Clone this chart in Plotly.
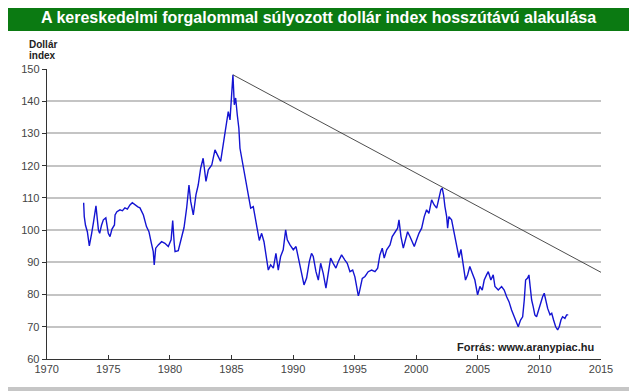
import plotly.graph_objects as go

# ---- data ----
years = [1973.0, 1973.05, 1973.15, 1973.3, 1973.46, 1973.55, 1973.65, 1973.8, 1973.92, 1974.0,
         1974.2, 1974.3, 1974.45, 1974.6, 1974.8, 1975.0, 1975.14, 1975.3, 1975.5, 1975.55,
         1975.7, 1975.95, 1976.15, 1976.35, 1976.55, 1976.76, 1976.95, 1977.17, 1977.4, 1977.57,
         1977.85, 1978.1, 1978.3, 1978.5, 1978.65, 1978.73, 1978.85, 1979.06, 1979.33, 1979.6,
         1979.87, 1980.1, 1980.23, 1980.35, 1980.42, 1980.68, 1980.96, 1981.15, 1981.36, 1981.55,
         1981.69, 1981.9, 1982.12, 1982.3, 1982.5, 1982.7, 1982.93, 1983.12, 1983.4, 1983.66,
         1983.93, 1984.12, 1984.33, 1984.55, 1984.74, 1984.88, 1985.02, 1985.12, 1985.23, 1985.34,
         1985.47, 1985.6, 1985.69, 1985.83, 1986.0, 1986.23, 1986.36, 1986.56, 1986.77, 1986.91,
         1987.08, 1987.26, 1987.45, 1987.64, 1987.86, 1987.99, 1988.18, 1988.4, 1988.61, 1988.8,
         1988.99, 1989.2, 1989.4, 1989.53, 1989.75, 1990.02, 1990.24, 1990.42, 1990.7, 1990.89,
         1991.1, 1991.32, 1991.5, 1991.64, 1991.86, 1992.05, 1992.24, 1992.45, 1992.67, 1992.86,
         1993.05, 1993.26, 1993.48, 1993.67, 1993.94, 1994.21, 1994.4, 1994.62, 1994.84, 1995.02,
         1995.21, 1995.3, 1995.37, 1995.51, 1995.62, 1995.84, 1996.1, 1996.38, 1996.65, 1996.87,
         1997.05, 1997.24, 1997.4, 1997.6, 1997.87, 1998.05, 1998.27, 1998.49, 1998.6, 1998.76,
         1998.95, 1999.14, 1999.3, 1999.49, 1999.68, 1999.84, 2000.03, 2000.22, 2000.44, 2000.65,
         2000.84, 2001.03, 2001.25, 2001.46, 2001.66, 2001.79, 2002.0, 2002.11, 2002.22, 2002.33,
         2002.47, 2002.55, 2002.65, 2002.87, 2003.0, 2003.14, 2003.28, 2003.4, 2003.47, 2003.63,
         2003.73, 2003.82, 2004.0, 2004.17, 2004.35, 2004.55, 2004.76, 2004.98, 2005.17, 2005.36,
         2005.52, 2005.71, 2005.85, 2006.06, 2006.25, 2006.39, 2006.66, 2006.93, 2007.14, 2007.34,
         2007.53, 2007.74, 2007.96, 2008.15, 2008.28, 2008.47, 2008.64, 2008.77, 2008.88, 2009.04,
         2009.15, 2009.25, 2009.37, 2009.5, 2009.63, 2009.77, 2009.96, 2010.12, 2010.26, 2010.39,
         2010.5, 2010.67, 2010.86, 2011.0, 2011.15, 2011.32, 2011.48, 2011.61, 2011.75, 2011.88,
         2012.07, 2012.21, 2012.34]
index_values = [108.5, 104.2, 101.5, 99.5, 95.1, 97.5, 99.0, 102.5, 106.3, 107.5,
                100.0, 99.0, 101.5, 103.2, 103.8, 99.0, 98.0, 100.3, 101.6, 104.7,
                105.7, 106.3, 106.0, 106.9, 106.5, 107.8, 108.5, 107.8, 107.2, 106.9,
                104.7, 101.1, 99.5, 95.9, 93.3, 89.2, 94.4, 95.4, 96.4, 95.9,
                94.9, 97.0, 103.0, 96.0, 93.3, 93.6, 97.8, 100.8, 106.8, 114.0,
                108.9, 104.7, 111.0, 114.0, 119.2, 122.3, 115.1, 118.7, 120.2, 124.9,
                122.8, 121.3, 126.5, 131.6, 136.8, 134.2, 141.0, 148.2, 138.9, 141.0,
                135.8, 131.6, 125.4, 122.3, 119.2, 114.0, 109.9, 106.8, 107.3, 103.7,
                100.6, 96.8, 99.0, 96.4, 91.3, 87.6, 89.2, 88.2, 92.8, 87.6,
                91.8, 93.9, 100.1, 97.0, 95.4, 93.9, 94.9, 91.3, 86.6, 83.0,
                85.1, 90.2, 92.8, 91.8, 87.1, 84.5, 89.7, 86.6, 82.0, 86.6,
                91.3, 89.7, 88.2, 90.2, 92.3, 90.7, 89.7, 87.1, 87.6, 85.5,
                80.9, 79.6, 80.5, 83.0, 85.0, 85.6, 87.1, 87.6, 87.1, 88.2,
                92.3, 94.4, 91.3, 93.9, 95.4, 98.0, 99.5, 100.6, 103.2, 98.0,
                94.4, 97.0, 99.5, 98.0, 96.4, 94.9, 97.0, 99.0, 100.6, 104.2,
                106.3, 105.2, 109.4, 107.8, 106.8, 108.9, 112.5, 113.0, 110.9, 107.3,
                104.2, 100.6, 104.2, 103.2, 100.6, 98.3, 95.4, 93.5, 91.5, 94.0,
                91.0, 89.7, 84.5, 86.1, 88.7, 86.6, 84.5, 79.9, 82.5, 81.4,
                84.5, 86.1, 87.1, 84.5, 86.1, 82.5, 81.4, 82.5, 81.4, 79.3,
                77.8, 75.2, 73.1, 71.6, 70.0, 72.1, 73.1, 78.3, 84.5, 85.1,
                86.1, 82.5, 78.3, 76.2, 73.7, 73.1, 75.7, 77.3, 79.3, 80.4,
                78.3, 75.7, 73.7, 74.2, 72.1, 70.0, 69.0, 70.0, 72.1, 73.1,
                72.6, 73.7, 73.7]

trend_years = [1985.12, 2015.0]
trend_values = [148.2, 86.9]

x_ticks = [1970, 1975, 1980, 1985, 1990, 1995, 2000, 2005, 2010, 2015]
y_ticks = [60, 70, 80, 90, 100, 110, 120, 130, 140, 150]

title_text = "A kereskedelmi forgalommal súlyozott dollár index hosszútávú alakulása"
y_title_lines = ["Dollár", "index"]
source_text = "Forrás: www.aranypiac.hu"

# ---- figure ----
# The page body has an 8px margin, so the figure is drawn 8px in from the
# window's top-left corner; layout positions below are given in window pixels.
OFF = 8
WIN_W, WIN_H = 637, 391
W, H = WIN_W - OFF, WIN_H - OFF
PL, PR, PT, PB = 46.7, 601.0, 69.0, 359.0  # plot area, window pixels


def px(x):
    return (x - OFF) / W


def py(y):
    return 1 - (y - OFF) / H


fig = go.Figure()
fig.add_trace(go.Scatter(x=years, y=index_values, mode="lines",
                         line=dict(color="#1414d2", width=1.4), hoverinfo="skip"))
fig.add_trace(go.Scatter(x=trend_years, y=trend_values, mode="lines",
                         line=dict(color="#3a3a3a", width=0.9), hoverinfo="skip"))

FONT = "Liberation Sans, Arial, sans-serif"

fig.update_layout(
    width=W, height=H,
    margin=dict(l=0, r=0, t=0, b=0, pad=0, autoexpand=False),
    paper_bgcolor="#c6c6c6",
    plot_bgcolor="rgba(0,0,0,0)",
    showlegend=False,
    font=dict(family=FONT, color="#333333", size=11),
    xaxis=dict(domain=[px(PL), px(PR)], range=[1970, 2015], tickvals=x_ticks,
               showgrid=False, zeroline=False, showline=True, linecolor="#333333",
               linewidth=1, ticks="inside", ticklen=4, tickcolor="#333333",
               automargin=False,
               tickfont=dict(size=11, color="#444444")),
    yaxis=dict(domain=[py(PB), py(PT)], range=[60, 150], tickvals=y_ticks,
               showgrid=True, gridcolor="#c4c4c4", gridwidth=1.5, zeroline=False,
               showline=True, linecolor="#333333", linewidth=1, ticks="outside",
               ticklen=4, tickcolor="#333333", automargin=False,
               tickfont=dict(size=11, color="#444444")),
    shapes=[
        dict(type="rect", xref="paper", yref="paper", x0=px(0), x1=px(634),
             y0=py(387), y1=py(0), fillcolor="white", line=dict(width=0), layer="below"),
        dict(type="rect", xref="paper", yref="paper", x0=px(0), x1=px(634),
             y0=py(31), y1=py(0), fillcolor="#0b7a12", line=dict(width=0), layer="below"),
    ],
    annotations=[
        dict(text="<b>" + title_text + "</b>", xref="paper", yref="paper",
             x=px(318.5), y=py(17), xanchor="center", yanchor="middle",
             showarrow=False, font=dict(family=FONT, size=16, color="white")),
        dict(text="<b>" + y_title_lines[0] + "</b>", xref="paper", yref="paper",
             x=px(27), y=py(44), xanchor="left", yanchor="middle",
             showarrow=False, font=dict(family=FONT, size=10, color="#222222")),
        dict(text="<b>" + y_title_lines[1] + "</b>", xref="paper", yref="paper",
             x=px(27), y=py(55), xanchor="left", yanchor="middle",
             showarrow=False, font=dict(family=FONT, size=10, color="#222222")),
        dict(text="<b>" + source_text + "</b>", xref="paper", yref="paper",
             x=px(596), y=py(347), xanchor="right", yanchor="middle",
             showarrow=False, font=dict(family=FONT, size=11, color="#222222")),
    ],
)

fig.write_html("out.html")
